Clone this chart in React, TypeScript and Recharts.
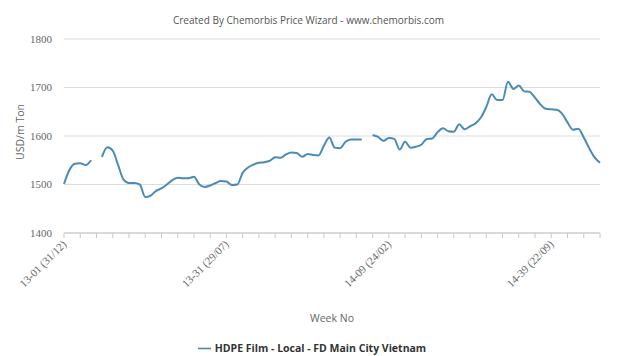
import { LineChart, Line, XAxis, YAxis, CartesianGrid, Legend, Label } from "recharts";

// weekly prices, 13-01 .. 14-48 (null = no quote that week)
const prices: (number | null)[] = [
  1501, 1530, 1543, 1544, 1540, 1550, null, 1557, 1577, 1570,
  1540, 1510, 1503, 1503, 1500, 1474, 1477, 1487, 1492, 1500,
  1509, 1514, 1513, 1513, 1516, 1500, 1495, 1498, 1503, 1507,
  1506, 1499, 1500, 1524, 1535, 1541, 1545, 1546, 1549, 1556,
  1555, 1562, 1566, 1565, 1557, 1563, 1561, 1560, 1580, 1597,
  1576, 1575, 1588, 1593, 1593, 1593, null, 1602, 1598, 1590,
  1596, 1594, 1572, 1588, 1576, 1578, 1582, 1594, 1595, 1608,
  1616, 1610, 1609, 1624, 1614, 1620, 1626, 1638, 1660, 1686,
  1674, 1674, 1712, 1697, 1704, 1692, 1691, 1679, 1665, 1656,
  1655, 1654, 1646, 1628, 1613, 1615, 1597, 1575, 1556, 1545,
];

const tickWeeks = [
  0, 3, 6, 9, 12, 15, 18, 21, 24, 27, 30, 33, 36, 39, 42, 45, 48,
  51, 54, 57, 60, 63, 66, 69, 72, 75, 78, 81, 84, 87, 90, 93, 96, 99,
];
const labelWeeks = [0, 30, 60, 90];
const labelTexts = ["13-01 (31/12)", "13-31 (29/07)", "14-09 (24/02)", "14-39 (22/09)"];
const yTicks = [1400, 1500, 1600, 1700, 1800];

const data = prices.map((price, i) => ({ week: i, price }));

const XTick = ({ x, y, payload }: any) => {
  const idx = labelWeeks.indexOf(payload.value);
  if (idx < 0) return null;
  const tx = x + 3;
  const ty = y + 5;
  return (
    <text
      x={tx}
      y={ty}
      transform={`rotate(-45 ${tx} ${ty})`}
      textAnchor="end"
      fill="#666"
      fontSize={11}
      fontFamily="'Liberation Serif', serif"
    >
      {labelTexts[idx]}
    </text>
  );
};

export default function App() {
  return (
    <div style={{ position: "absolute", left: 0, top: 0, width: 643, height: 356, background: "#fff", overflow: "hidden" }}>
      <div
        style={{
          position: "absolute",
          top: 13,
          left: 0,
          width: 617,
          textAlign: "center",
          fontFamily: "'Open Sans', sans-serif",
          fontSize: 10,
          color: "#555",
        }}
      >
        Created By Chemorbis Price Wizard - www.chemorbis.com
      </div>
      <LineChart width={643} height={356} data={data} margin={{ top: 39, right: 43, bottom: 38, left: 0 }}>
        <CartesianGrid vertical={false} stroke="#dcdcdc" />
        <XAxis
          dataKey="week"
          type="number"
          domain={[0, 99]}
          ticks={tickWeeks}
          interval={0}
          height={85}
          stroke="#c8c8c8"
          tickSize={5}
          tickMargin={2}
          tick={<XTick />}
        >
          <Label
            value="Week No"
            position="insideBottom"
            offset={-4}
            fill="#666"
            fontSize={10.5}
            fontFamily="'Open Sans', sans-serif"
          />
        </XAxis>
        <YAxis
          domain={[1400, 1800]}
          ticks={yTicks}
          width={64}
          axisLine={false}
          tickLine={false}
          tickSize={0}
          tickMargin={12}
          tick={{ fill: "#666", fontSize: 11, fontFamily: "'Liberation Serif', serif" }}
        >
          <Label
            content={({ viewBox }: any) => {
              const cy = viewBox.y + viewBox.height / 2 - 4;
              return (
                <text
                  x={20}
                  y={cy}
                  transform={`rotate(-90 20 ${cy})`}
                  textAnchor="middle"
                  dominantBaseline="central"
                  fill="#666"
                  fontSize={10.5}
                  fontFamily="'Open Sans', sans-serif"
                >
                  USD/m Ton
                </text>
              );
            }}
          />
        </YAxis>
        <Legend
          verticalAlign="middle"
          align="center"
          iconType="plainline"
          iconSize={13}
          wrapperStyle={{ top: 338, left: 0, width: 634 }}
          formatter={(value: string) => (
            <span style={{ color: "#333", fontWeight: "bold", fontSize: 10.5, fontFamily: "'Open Sans', sans-serif" }}>
              {value}
            </span>
          )}
        />
        <Line
          type="monotone"
          dataKey="price"
          name="HDPE Film - Local - FD Main City Vietnam"
          stroke="#4a8ab9"
          strokeWidth={2}
          dot={false}
          connectNulls={false}
          isAnimationActive={false}
        />
      </LineChart>
    </div>
  );
}
